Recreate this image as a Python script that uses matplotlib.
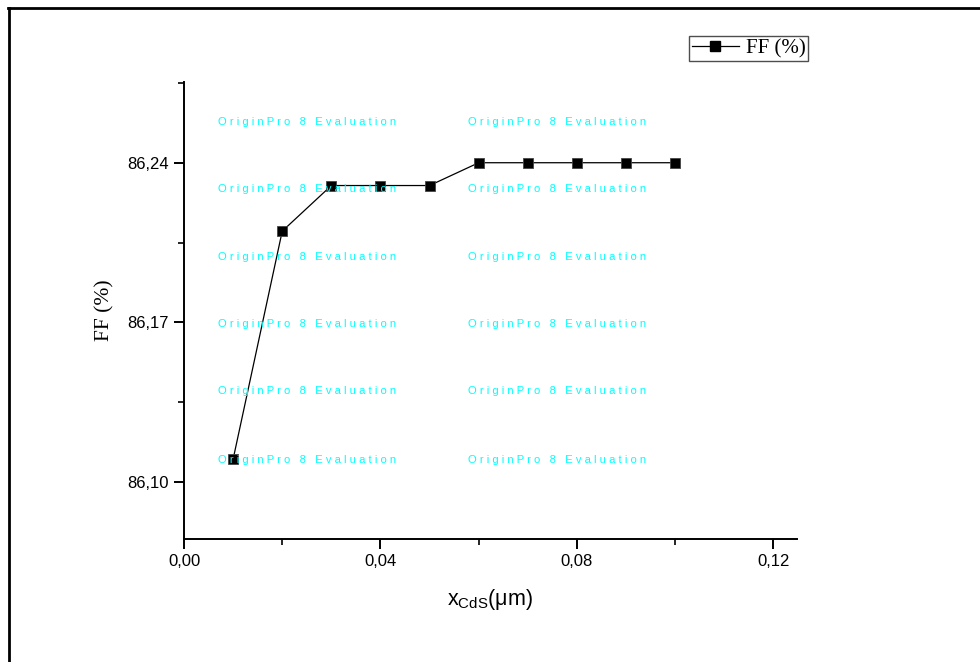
import numpy as np
import matplotlib.pyplot as plt
from matplotlib.lines import Line2D
from matplotlib.ticker import FixedLocator, MultipleLocator, FuncFormatter

# data
x_cds = [0.01, 0.02, 0.03, 0.04, 0.05, 0.06, 0.07, 0.08, 0.09, 0.10]
ff = [86.11, 86.21, 86.23, 86.23, 86.23, 86.24, 86.24, 86.24, 86.24, 86.24]
series_name = 'FF (%)'
y_major = [86.10, 86.17, 86.24]
y_minor = [86.135, 86.205, 86.275]
wm_rows = [122, 189, 257, 324, 391, 460]
wm_cols = [218, 468]

W, H = 980, 662
fig = plt.figure(figsize=(W / 100, H / 100), dpi=100)
ax = fig.add_axes([184 / W, 1 - 539 / H, (797 - 184) / W, (539 - 82) / H])

ax.plot(x_cds, ff, color='black', lw=0.9, marker='s', markersize=7.5,
        markerfacecolor='black', markeredgecolor='#444444', markeredgewidth=0.6,
        label=series_name, zorder=3)

ax.set_xlim(0, 0.1248)
ax.set_ylim(86.075, 86.2754)
ax.xaxis.set_major_locator(MultipleLocator(0.04))
ax.xaxis.set_minor_locator(MultipleLocator(0.02))
ax.yaxis.set_major_locator(FixedLocator(y_major))
ax.yaxis.set_minor_locator(FixedLocator(y_minor))
comma = FuncFormatter(lambda v, p: f'{v:.2f}'.replace('.', ','))
ax.xaxis.set_major_formatter(comma)
ax.yaxis.set_major_formatter(comma)

for s in ['top', 'right']:
    ax.spines[s].set_visible(False)
for s in ['left', 'bottom']:
    ax.spines[s].set_linewidth(1.4)

ax.tick_params(which='major', direction='out', length=7, width=1.4,
               labelsize=12, pad=4)
ax.tick_params(which='minor', direction='out', length=4, width=1.2)
for lab in ax.get_xticklabels() + ax.get_yticklabels():
    lab.set_family('Liberation Sans')

ax.set_xlabel(r'x$_{\mathregular{CdS}}$(μm)', family='Liberation Sans',
              fontsize=15.5, labelpad=13)
ax.set_ylabel('FF (%)', family='Liberation Serif', fontsize=15.5, labelpad=9)

# legend box
handle = Line2D([], [], color='black', lw=0.9, marker='s', markersize=7.5,
                markerfacecolor='black', markeredgecolor='black')
leg = fig.legend([handle], [series_name], loc='upper left',
                 bbox_to_anchor=(689 / W, 1 - 36 / H), frameon=True,
                 fancybox=False, handlelength=2.3, handletextpad=0.3,
                 borderpad=0.12, borderaxespad=0,
                 prop={'family': 'Liberation Serif', 'size': 15})
leg.get_frame().set_edgecolor('#222222')
leg.get_frame().set_linewidth(1.0)

# evaluation watermark
wm = ' '.join('OriginPro 8 Evaluation')
for r in wm_rows:
    for c in wm_cols:
        fig.text(c / W, 1 - r / H, wm, color='cyan', fontsize=8.1,
                 family='Liberation Sans', va='center', ha='left', zorder=5)

# outer frame (left and top edges only)
fig.add_artist(Line2D([9 / W, 9 / W], [0, 1 - 8 / H], color='black',
                      lw=2.0, transform=fig.transFigure))
fig.add_artist(Line2D([8 / W, 1], [1 - 8 / H, 1 - 8 / H], color='black',
                      lw=2.0, transform=fig.transFigure))

fig.savefig('out.png', dpi=100)
